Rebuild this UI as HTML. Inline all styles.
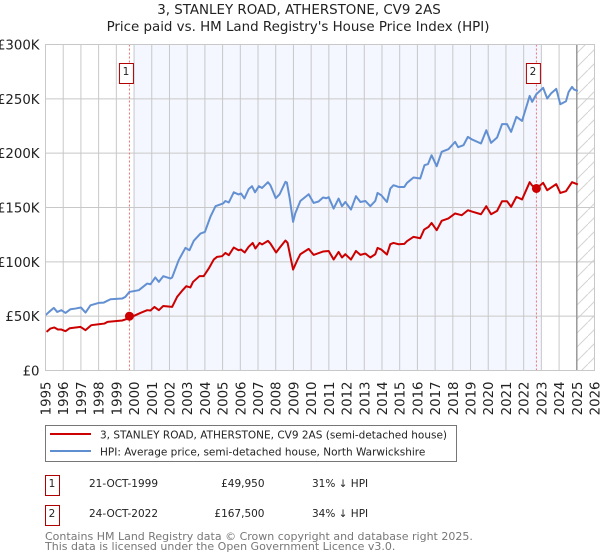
<!DOCTYPE html>
<html>
<head>
<meta charset="utf-8">
<style>
html,body{margin:0;padding:0;background:#fff;width:600px;height:560px;overflow:hidden}
svg{display:block;font-family:"DejaVu Sans","Liberation Sans",sans-serif}
</style>
</head>
<body>
<svg id="chart" width="600" height="560" viewBox="0 0 600 560" xmlns="http://www.w3.org/2000/svg">
<defs>
<pattern id="hatch" width="14" height="14" patternUnits="userSpaceOnUse">
<path d="M-1 15L15 -1" stroke="#d4d4d4" stroke-width="1" fill="none"/>
</pattern>
</defs>
<text x="299" y="14" text-anchor="middle" font-size="13.4" fill="#222">3, STANLEY ROAD, ATHERSTONE, CV9 2AS</text>
<text x="298" y="31" text-anchor="middle" font-size="13.4" fill="#222">Price paid vs. HM Land Registry's House Price Index (HPI)</text>
<g id="plot"></g>

<g>
<rect x="45.5" y="425.5" width="411" height="36" fill="#fff" stroke="#777" stroke-width="1"/>
<line x1="50" x2="91" y1="434" y2="434" stroke="#cc0000" stroke-width="2"/>
<text x="100" y="438.5" font-size="10.5" fill="#222">3, STANLEY ROAD, ATHERSTONE, CV9 2AS (semi-detached house)</text>
<line x1="50" x2="91" y1="451" y2="451" stroke="#5f8fd0" stroke-width="2"/>
<text x="100" y="455.5" font-size="10.5" fill="#222">HPI: Average price, semi-detached house, North Warwickshire</text>
</g>

<g>
<rect x="45.5" y="475.5" width="14" height="20" fill="#fff" stroke="#b00000" stroke-width="1"/>
<text x="52" y="487" text-anchor="middle" font-size="10.5" fill="#222">1</text>
<text x="89" y="487" font-size="10.5" fill="#222">21-OCT-1999</text>
<text x="264.500" y="487" text-anchor="end" font-size="10.5" fill="#222">£49,950</text>
<text x="312" y="487" font-size="10.5" fill="#222">31% ↓ HPI</text>
</g>
<g>
<rect x="45.5" y="505.5" width="14" height="20" fill="#fff" stroke="#b00000" stroke-width="1"/>
<text x="52" y="517" text-anchor="middle" font-size="10.5" fill="#222">2</text>
<text x="89" y="517" font-size="10.5" fill="#222">24-OCT-2022</text>
<text x="264.500" y="517" text-anchor="end" font-size="10.5" fill="#222">£167,500</text>
<text x="312" y="517" font-size="10.5" fill="#222">34% ↓ HPI</text>
</g>
<text x="45" y="540" font-size="11" fill="#777">Contains HM Land Registry data © Crown copyright and database right 2025.</text>
<text x="45" y="550" font-size="11" fill="#777">This data is licensed under the Open Government Licence v3.0.</text>
</svg>
<script>
const yTickValues = [0, 50, 100, 150, 200, 250, 300];
const yTickLabels = ['£0', '£50K', '£100K', '£150K', '£200K', '£250K', '£300K'];
const xTickYears = [1995,1996,1997,1998,1999,2000,2001,2002,2003,2004,2005,2006,2007,2008,2009,2010,2011,2012,2013,2014,2015,2016,2017,2018,2019,2020,2021,2022,2023,2024,2025,2026];
const hpiDates = [1995,1995.2,1995.47,1995.66,1995.9,1996.13,1996.41,1996.69,1997,1997.26,1997.54,1998,1998.29,1998.67,1999.33,1999.51,1999.74,2000.27,2000.74,2000.93,2001.2,2001.4,2001.65,2002.05,2002.15,2002.52,2002.9,2003.13,2003.37,2003.75,2004,2004.31,2004.6,2005.03,2005.16,2005.35,2005.63,2005.9,2006.04,2006.23,2006.47,2006.66,2006.83,2007.05,2007.23,2007.56,2007.7,2008,2008.22,2008.55,2008.63,2008.79,2008.98,2009.1,2009.39,2009.86,2010.14,2010.42,2010.67,2010.86,2010.99,2011.27,2011.55,2011.74,2011.93,2012.25,2012.53,2012.78,2013.06,2013.34,2013.62,2013.75,2013.96,2014.28,2014.47,2014.65,2014.94,2015.26,2015.41,2015.78,2016.16,2016.4,2016.6,2016.8,2017.09,2017.37,2017.75,2018.13,2018.3,2018.6,2018.85,2019.08,2019.59,2019.89,2020.16,2020.5,2020.78,2021.06,2021.29,2021.59,2021.91,2022.34,2022.48,2022.72,2023.1,2023.33,2023.55,2023.84,2024.07,2024.39,2024.54,2024.73,2024.85,2025.06];
const hpiValues = [50.9,53.9,57.6,53.9,55.5,53,56.4,57,58,53.3,60,62.2,62.5,65.6,66.2,67.8,72.3,73.9,80,79.4,85.6,81.6,86.8,84.7,85.6,101.5,112.8,110.7,119.3,126,127.5,141.4,151.2,153.7,156,154.6,164,162,162.9,158.3,166.9,169.6,164,169.6,168,173.3,170.5,158.6,162.2,173.6,173,158.3,136.8,144.5,156,162.2,154.2,155.5,159.2,158.5,159.5,149,158.2,151.2,155.1,148.1,160.4,155.1,156,151.2,156,163.4,161.3,155.1,167.4,170.5,168.9,168.9,172.6,177.6,176.7,188.9,190,198.1,188,201.2,203.7,210.4,205.5,207.3,215,212.6,208.9,221.1,209.5,214.4,226.7,226.7,219.6,233.4,229.7,252.7,247.2,254.3,260.1,250.3,255,259.2,245,247.8,256.4,261,258.5,257.3];
const paidDates = [1995.06,1995.28,1995.5,1995.7,1995.9,1996.13,1996.37,1996.98,1997.26,1997.58,1998,1998.33,1998.5,1999.33,1999.66,2000.08,2000.36,2000.74,2000.93,2001.15,2001.4,2001.65,2002.15,2002.43,2002.71,2002.95,2003.18,2003.33,2003.69,2003.93,2004.22,2004.5,2004.69,2004.97,2005.16,2005.35,2005.63,2005.9,2006.04,2006.25,2006.47,2006.7,2006.85,2007.09,2007.23,2007.56,2007.7,2008.02,2008.26,2008.55,2008.67,2008.83,2008.98,2009.2,2009.39,2009.86,2010.14,2010.67,2010.99,2011.27,2011.55,2011.74,2011.93,2012.25,2012.53,2012.78,2013.06,2013.34,2013.62,2013.75,2013.96,2014.28,2014.47,2014.65,2014.94,2015.26,2015.41,2015.78,2016.16,2016.38,2016.63,2016.8,2017.09,2017.37,2017.75,2018.13,2018.5,2018.85,2019.08,2019.59,2019.89,2020.16,2020.5,2020.78,2021.06,2021.29,2021.59,2021.91,2022.34,2022.48,2022.72,2023.1,2023.33,2023.84,2024.07,2024.39,2024.73,2025.06];
const paidValues = [35.5,38.6,39.6,37.7,37.7,36.2,38.9,40.1,37.1,41.7,42.6,43.2,44.7,46,47.8,50.9,53,55.5,55.2,58.5,55.5,59.4,58.5,67.7,73.3,77.6,76.4,81.5,86.8,86.8,93.9,102.1,104.6,105.2,108.2,106.1,113.2,110.7,111.3,108.6,113.8,117.4,112.3,117.4,116,119.3,116.8,108.6,113.8,119.6,117.5,104.6,92.9,100.9,107,111.9,106.4,109.5,110,102.1,109.1,104,107,102.1,110,106.4,107.6,104,107,112.8,111.3,106.7,116.2,117.4,116.2,116.5,119,123,121.7,129.7,132.2,135.8,129.1,137.7,139.9,144.5,142.9,147.5,146.3,143.8,151.2,143.8,146.9,155.8,155.8,150.6,159.8,157.4,173.3,170.2,167.5,172.7,165.9,171.5,163.4,165,173.3,171.2];
const saleDates = [1999.74, 2022.72];
const salePrices = [49.95, 167.5];
const saleLabels = ['1', '2'];
const shadeStartYear = 2000;
const shadeEndYear = 2023;
const forecastStartYear = 2025;

const NS = 'http://www.w3.org/2000/svg';
const plot = document.getElementById('plot');
const L = 45.5, R = 594.5, T = 44.5, B = 370.5;
function xScale(year) { return L + (year - 1995) * (R - L) / 31; }
function yScale(k) { return B - k * (B - T) / 300; }
function add(tag, attrs, parent) {
  const el = document.createElementNS(NS, tag);
  for (const k in attrs) el.setAttribute(k, attrs[k]);
  (parent || plot).appendChild(el);
  return el;
}
function linePath(dates, values) {
  return dates.map((d, i) => (i ? 'L' : 'M') + xScale(d).toFixed(2) + ' ' + yScale(values[i]).toFixed(2)).join('');
}

const shade = add('rect', {x: xScale(shadeStartYear), y: T, width: xScale(shadeEndYear) - xScale(shadeStartYear), height: B - T, fill: '#f4f7ff'});



const hatch = add('rect', {x: xScale(forecastStartYear), y: T, width: R - xScale(forecastStartYear), height: B - T, fill: 'url(#hatch)'});



yTickValues.forEach((v, i) => {
  const g = add('line', {x1: L, x2: R, y1: yScale(v), y2: yScale(v), stroke: '#c8c8c8', 'stroke-width': 1});
  
  
  const t = add('text', {x: 39.5, y: yScale(v) + 5, 'text-anchor': 'end', 'font-size': 13.3, fill: '#222'});
  
  
  t.textContent = yTickLabels[i];
});
xTickYears.forEach(year => {
  const x = xScale(year);
  const g = add('line', {x1: x, x2: x, y1: T, y2: B, stroke: '#c8c8c8', 'stroke-width': 1});
  
  
  const t = add('text', {transform: 'translate(' + (x + 5) + ',381.5) rotate(-90)', 'text-anchor': 'end', 'font-size': 13.3, fill: '#222'});
  
  
  t.textContent = year;
});

const endLine = add('line', {x1: xScale(forecastStartYear), x2: xScale(forecastStartYear), y1: T, y2: B, stroke: '#999', 'stroke-width': 1.5});



saleDates.forEach(d => {
  const v = add('line', {x1: xScale(d), x2: xScale(d), y1: T, y2: B, stroke: '#f07070', 'stroke-width': 1, 'stroke-dasharray': '2 2'});
  
  
});

const hpiLine = add('path', {d: linePath(hpiDates, hpiValues), fill: 'none', stroke: '#6390d2', 'stroke-width': 2, 'stroke-linejoin': 'round'});



const paidLine = add('path', {d: linePath(paidDates, paidValues), fill: 'none', stroke: '#cc0000', 'stroke-width': 2, 'stroke-linejoin': 'round'});



saleDates.forEach((d, i) => {
  const c = add('circle', {cx: xScale(d), cy: yScale(salePrices[i]), r: 4.5, fill: '#cc0000'});
  
  
  const b = add('rect', {x: xScale(d) - 10, y: 63.5, width: 14, height: 20, fill: '#fff', stroke: '#b00000', 'stroke-width': 1});
  
  
  const t = add('text', {x: xScale(d) - 3.5, y: 75, 'text-anchor': 'middle', 'font-size': 10.5, fill: '#222'});
  
  
  t.textContent = saleLabels[i];
});

const frame = add('rect', {x: L, y: T, width: R - L, height: B - T, fill: 'none', stroke: '#c8c8c8', 'stroke-width': 1});


</script>
</body>
</html>
